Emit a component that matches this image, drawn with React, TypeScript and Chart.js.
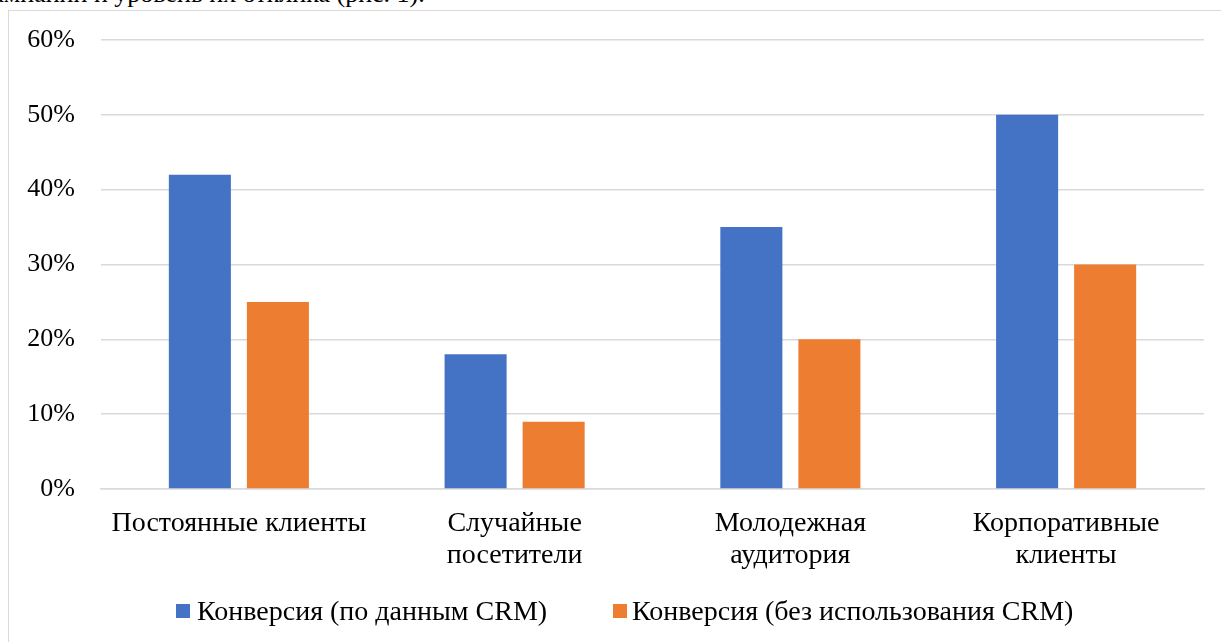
import React, { useEffect, useRef } from "react";
import { Chart, registerables } from "chart.js";

Chart.register(...registerables);

const categories: (string | string[])[] = [
  "Постоянные клиенты",
  ["Случайные", "посетители"],
  ["Молодежная", "аудитория"],
  ["Корпоративные", "клиенты"],
];
const withCrm = [42, 18, 35, 50];
const withoutCrm = [25, 9, 20, 30];
const seriesNames = ["Конверсия (по данным CRM)", "Конверсия (без использования CRM)"];
const seriesColors = ["#4472C4", "#ED7D31"];
const yTicks = [0, 10, 20, 30, 40, 50, 60];
const precedingText = "кампании и уровень их отклика (рис. 1).";

const FONT = "'Liberation Serif', 'Times New Roman', serif";

export default function App() {
  const canvasRef = useRef<HTMLCanvasElement | null>(null);

  useEffect(() => {
    const canvas = canvasRef.current;
    if (!canvas) return;
    const chart = new Chart(canvas, {
      type: "bar",
      data: {
        labels: categories,
        datasets: [
          {
            label: seriesNames[0],
            data: withCrm,
            backgroundColor: seriesColors[0],
            categoryPercentage: 0.566,
            barPercentage: 0.795,
          },
          {
            label: seriesNames[1],
            data: withoutCrm,
            backgroundColor: seriesColors[1],
            categoryPercentage: 0.566,
            barPercentage: 0.795,
          },
        ],
      },
      options: {
        animation: false,
        responsive: false,
        devicePixelRatio: 1,
        layout: { padding: { left: 0, right: 17, top: 29, bottom: 0 } },
        plugins: {
          tooltip: { enabled: false },
          legend: { display: false },
        },
        scales: {
          x: {
            grid: { display: false, drawTicks: false },
            border: { display: true, color: "#d9d9d9", width: 1.5 },
            ticks: {
              color: "#000",
              padding: 19,
              maxRotation: 0,
              autoSkip: false,
              font: { family: FONT, size: 28, lineHeight: 1.14 },
            },
            afterFit: (scale: any) => {
              scale.height = 153;
            },
          },
          y: {
            min: 0,
            max: 60,
            afterBuildTicks: (scale: any) => {
              scale.ticks = yTicks.map((v) => ({ value: v }));
            },
            grid: {
              color: "#d9d9d9",
              lineWidth: 1.5,
              drawTicks: true,
              tickLength: 26,
              tickColor: "rgba(0,0,0,0)",
            },
            border: { display: false },
            ticks: {
              color: "#000",
              padding: 0,
              font: { family: FONT, size: 26 },
              callback: (v: any) => `${v}%`,
            },
            afterFit: (scale: any) => {
              scale.width = 92;
            },
          },
        },
      },
    });
    return () => chart.destroy();
  }, []);

  const legendPos = [
    { box: 176, text: 197 },
    { box: 613, text: 632 },
  ];

  return (
    <div
      style={{
        position: "fixed",
        left: 0,
        top: 0,
        width: 1221,
        height: 642,
        overflow: "hidden",
        background: "#fff",
      }}
    >
      <div
        style={{
          position: "absolute",
          left: -20,
          top: -19,
          lineHeight: "26px",
          fontSize: 26,
          fontFamily: FONT,
          color: "#000",
          whiteSpace: "nowrap",
        }}
      >
        {precedingText}
      </div>
      <div
        style={{
          position: "absolute",
          left: 8,
          top: 10,
          width: 1300,
          height: 700,
          border: "1px solid #d9d9d9",
          boxSizing: "border-box",
        }}
      >
        <canvas ref={canvasRef} width={1212} height={631} style={{ display: "block" }} />
      </div>
      {seriesNames.map((name, i) => (
        <React.Fragment key={name}>
          <div
            style={{
              position: "absolute",
              left: legendPos[i].box,
              top: 604,
              width: 14,
              height: 14,
              background: seriesColors[i],
            }}
          />
          <div
            style={{
              position: "absolute",
              left: legendPos[i].text,
              top: 596,
              lineHeight: "30px",
              fontSize: 28,
              fontFamily: FONT,
              color: "#000",
              whiteSpace: "nowrap",
            }}
          >
            {name}
          </div>
        </React.Fragment>
      ))}
    </div>
  );
}
